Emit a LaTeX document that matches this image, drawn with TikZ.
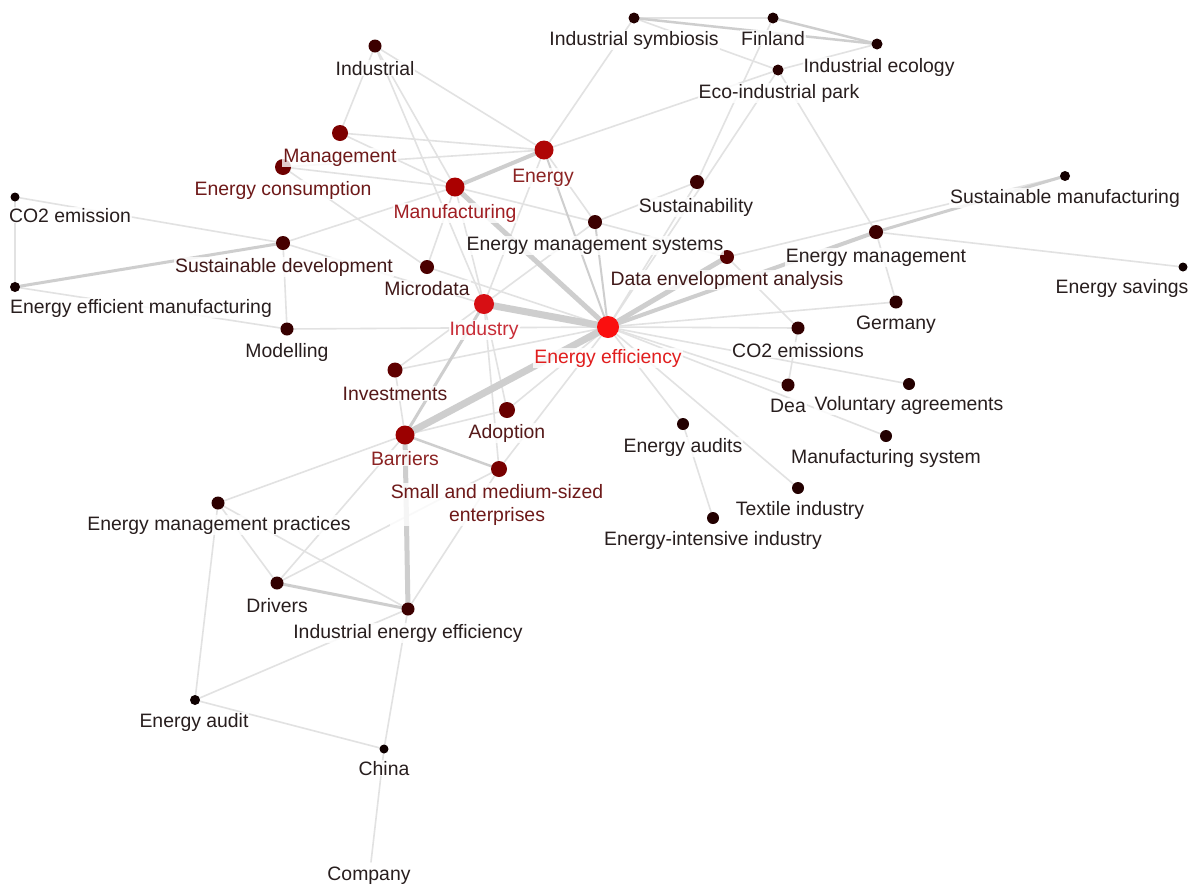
\documentclass[tikz,border=0pt]{standalone}
\usepackage{fontspec}
\setmainfont{Liberation Sans}
\pgfdeclarelayer{edges}
\pgfsetlayers{edges,main}
\begin{document}
\begin{tikzpicture}[x=1pt,y=-1pt,
  dot/.style={circle,inner sep=0pt,minimum size=#1,draw=none},
  lbl/.style={anchor=base,fill=white,fill opacity=0.8,text opacity=1,inner sep=1pt,
    font=\fontsize{19.4}{23}\selectfont},
  link/.style={draw=linkgray,line width=1.6pt,line cap=round},
  mid/.style={draw=midgray,line width=#1,line cap=round},
]
\definecolor{linkgray}{RGB}{226,226,226}
\definecolor{midgray}{RGB}{206,206,206}
\definecolor{txtdark}{RGB}{40,30,30}
\definecolor{txtred}{RGB}{225,30,30}
\definecolor{txtind}{RGB}{200,45,55}
\definecolor{txtmfg}{RGB}{160,30,35}
\definecolor{txtbig}{RGB}{140,35,35}
\definecolor{txtmed}{RGB}{110,25,25}
\definecolor{txtsm}{RGB}{85,25,25}
\definecolor{txtlow}{RGB}{65,25,25}

\useasboundingbox (0,0) rectangle (1194,884);

% keyword dots
\node[dot=22pt,fill={rgb,255:red,250;green,15;blue,15}] (ee) at (608,327) {};
\node[dot=20pt,fill={rgb,255:red,215;green,15;blue,20}] (ind) at (484,304) {};
\node[dot=19pt,fill={rgb,255:red,170;green,0;blue,0}] (mfg) at (455,187) {};
\node[dot=19pt,fill={rgb,255:red,175;green,5;blue,5}] (en) at (544,150) {};
\node[dot=19pt,fill={rgb,255:red,155;green,0;blue,0}] (bar) at (405,435) {};
\node[dot=16pt,fill={rgb,255:red,125;green,0;blue,0}] (mgmt) at (340,133) {};
\node[dot=16pt,fill={rgb,255:red,110;green,0;blue,0}] (econs) at (283,167) {};
\node[dot=16pt,fill={rgb,255:red,105;green,0;blue,0}] (adop) at (507,410) {};
\node[dot=16pt,fill={rgb,255:red,120;green,0;blue,0}] (sme) at (499,469) {};
\node[dot=15pt,fill={rgb,255:red,95;green,0;blue,0}] (inv) at (395,370) {};
\node[dot=14pt,fill={rgb,255:red,75;green,0;blue,0}] (micro) at (427,267) {};
\node[dot=14pt,fill={rgb,255:red,70;green,0;blue,0}] (sdev) at (283,243) {};
\node[dot=14pt,fill={rgb,255:red,60;green,0;blue,0}] (ems) at (595,222) {};
\node[dot=14pt,fill={rgb,255:red,60;green,0;blue,0}] (sust) at (697,182) {};
\node[dot=14pt,fill={rgb,255:red,85;green,0;blue,0}] (dea) at (727,257) {};
\node[dot=14pt,fill={rgb,255:red,60;green,0;blue,0}] (emgmt) at (876,232) {};
\node[dot=13pt,fill={rgb,255:red,60;green,0;blue,0}] (indl) at (375,46) {};
\node[dot=13pt,fill={rgb,255:red,55;green,0;blue,0}] (model) at (287,329) {};
\node[dot=13pt,fill={rgb,255:red,45;green,0;blue,0}] (ger) at (896,302) {};
\node[dot=13pt,fill={rgb,255:red,50;green,0;blue,0}] (co2s) at (798,328) {};
\node[dot=13pt,fill={rgb,255:red,50;green,0;blue,0}] (dea2) at (788,385) {};
\node[dot=13pt,fill={rgb,255:red,45;green,0;blue,0}] (emp) at (218,503) {};
\node[dot=13pt,fill={rgb,255:red,50;green,0;blue,0}] (drv) at (277,583) {};
\node[dot=13pt,fill={rgb,255:red,60;green,0;blue,0}] (iee) at (408,609) {};
\node[dot=12pt,fill={rgb,255:red,35;green,0;blue,0}] (audits) at (683,424) {};
\node[dot=12pt,fill={rgb,255:red,35;green,0;blue,0}] (vol) at (909,384) {};
\node[dot=12pt,fill={rgb,255:red,35;green,0;blue,0}] (msys) at (886,436) {};
\node[dot=12pt,fill={rgb,255:red,35;green,0;blue,0}] (tex) at (798,488) {};
\node[dot=12pt,fill={rgb,255:red,35;green,0;blue,0}] (eint) at (713,518) {};
\node[dot=11pt,fill={rgb,255:red,35;green,0;blue,0}] (isym) at (634,18) {};
\node[dot=11pt,fill={rgb,255:red,30;green,0;blue,0}] (fin) at (773,18) {};
\node[dot=11pt,fill={rgb,255:red,30;green,0;blue,0}] (iecol) at (877,44) {};
\node[dot=11pt,fill={rgb,255:red,40;green,0;blue,0}] (eco) at (778,70) {};
\node[dot=10pt,fill={rgb,255:red,20;green,0;blue,0}] (sman) at (1065,176) {};
\node[dot=9pt,fill={rgb,255:red,15;green,0;blue,0}] (esav) at (1183,267) {};
\node[dot=9pt,fill={rgb,255:red,15;green,0;blue,0}] (co2) at (15,197) {};
\node[dot=10pt,fill={rgb,255:red,20;green,0;blue,0}] (eem) at (15,287) {};
\node[dot=10pt,fill={rgb,255:red,15;green,0;blue,0}] (audit) at (195,700) {};
\node[dot=9pt,fill={rgb,255:red,15;green,0;blue,0}] (china) at (384,749) {};
\coordinate (comp) at (371,862);

% co-occurrence links, on a white ground beneath the dots
\begin{pgfonlayer}{edges}
\fill[white] (0,0) rectangle (1194,884);
\foreach \a/\b in {ee/ger,ee/co2s,ee/dea2,ee/vol,ee/msys,ee/tex,ee/audits,audits/eint,
  ee/eco,ee/sust,ee/model,ee/micro,ee/inv,ee/adop,ee/sme,
  emgmt/esav,emgmt/ger,emgmt/eco,dea/sman,dea/co2s,co2s/dea2,dea/ems,
  isym/fin,isym/eco,eco/iecol,isym/en,en/eco,sust/fin,ems/sust,
  indl/en,indl/mgmt,indl/mfg,indl/ind,mgmt/en,mgmt/mfg,econs/en,econs/mfg,econs/micro,
  sdev/co2,co2/eem,sdev/mfg,sdev/ind,sdev/model,eem/model,
  micro/mfg,inv/bar,inv/ind,bar/adop,bar/emp,bar/drv,adop/ind,sme/ind,sme/iee,sme/drv,
  emp/drv,emp/iee,emp/audit,iee/audit,iee/china,audit/china,china/comp,
  mfg/ems,mfg/ind,en/ind,en/ems,ind/ems}
  \draw[link] (\a.center) -- (\b.center);
\foreach \a/\b/\w in {ee/ind/7pt,ee/bar/7pt,ee/mfg/5pt,ee/dea/5pt,bar/iee/5pt,
  en/mfg/4pt,ee/emgmt/4pt,drv/iee/3pt,bar/ind/3pt,emgmt/sman/3pt,sdev/eem/3pt,
  isym/iecol/2.5pt,fin/iecol/2.5pt,bar/sme/2.5pt,ee/en/2pt,ee/ems/2pt}
  \draw[mid=\w] (\a.center) -- (\b.center);
\end{pgfonlayer}

% keyword labels
\node[lbl,text=txtred] at (608,363) {Energy efficiency};
\node[lbl,text=txtind] at (484,335) {Industry};
\node[lbl,text=txtmfg] at (455,218) {Manufacturing};
\node[lbl,text=txtbig] at (543,182) {Energy};
\node[lbl,text=txtbig] at (405,465) {Barriers};
\node[lbl,text=txtmed] at (340,162) {Management};
\node[lbl,text=txtmed] at (283,195) {Energy consumption};
\node[lbl,text=txtsm] at (507,438) {Adoption};
\node[lbl,text=txtmed,anchor=north,align=center] at (497,483) {Small and medium-sized\\enterprises};
\node[lbl,text=txtsm] at (395,400) {Investments};
\node[lbl,text=txtlow] at (427,295) {Microdata};
\node[lbl,text=txtlow] at (284,272) {Sustainable development};
\node[lbl,text=txtdark] at (595,250) {Energy management systems};
\node[lbl,text=txtdark] at (696,212) {Sustainability};
\node[lbl,text=txtlow] at (727,285) {Data envelopment analysis};
\node[lbl,text=txtdark] at (876,262) {Energy management};
\node[lbl,text=txtdark] at (375,75) {Industrial};
\node[lbl,text=txtdark] at (287,357) {Modelling};
\node[lbl,text=txtdark] at (896,329) {Germany};
\node[lbl,text=txtdark] at (798,357) {CO2 emissions};
\node[lbl,text=txtdark] at (788,412) {Dea};
\node[lbl,text=txtdark] at (219,530) {Energy management practices};
\node[lbl,text=txtdark] at (277,612) {Drivers};
\node[lbl,text=txtdark] at (408,638) {Industrial energy efficiency};
\node[lbl,text=txtdark] at (683,452) {Energy audits};
\node[lbl,text=txtdark] at (909,410) {Voluntary agreements};
\node[lbl,text=txtdark] at (886,463) {Manufacturing system};
\node[lbl,text=txtdark] at (800,515) {Textile industry};
\node[lbl,text=txtdark] at (713,545) {Energy-intensive industry};
\node[lbl,text=txtdark] at (634,45) {Industrial symbiosis};
\node[lbl,text=txtdark] at (773,45) {Finland};
\node[lbl,text=txtdark] at (879,72) {Industrial ecology};
\node[lbl,text=txtdark] at (779,98) {Eco-industrial park};
\node[lbl,text=txtdark] at (1065,203) {Sustainable manufacturing};
\node[lbl,text=txtdark] at (1122,293) {Energy savings};
\node[lbl,text=txtdark] at (70,222) {CO2 emission};
\node[lbl,text=txtdark] at (141,313) {Energy efficient manufacturing};
\node[lbl,text=txtdark] at (194,727) {Energy audit};
\node[lbl,text=txtdark] at (384,775) {China};
\node[lbl,text=txtdark] at (369,880) {Company};
\end{tikzpicture}
\end{document}
